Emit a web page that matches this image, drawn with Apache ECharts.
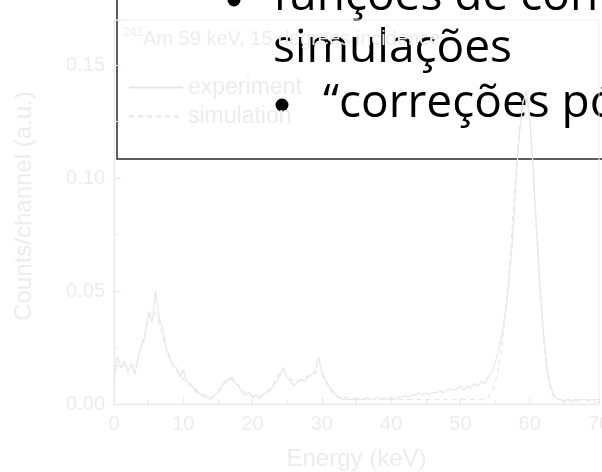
<!DOCTYPE html>
<html><head><meta charset="utf-8">
<script src="https://cdn.jsdelivr.net/npm/echarts@6/dist/echarts.min.js"></script>
<style>html,body{margin:0;padding:0;background:#fff}#c{width:602px;height:472px}</style>
</head><body><div id="c"></div>
<script>
// Energy grid: 0 .. 70 keV, one sample every 0.5 keV
const energyStep = 0.5;
const seriesNames = ['experiment', 'simulation'];
const titleText = 'Am 59 keV, 15 degrees incidence';
const titleSup = '241';
const xTickLabels = ['0', '10', '20', '30', '40', '50', '60', '70'];
const yTickLabels = ['0.00', '0.05', '0.10', '0.15'];
const slideLines = ['funções de conversão nas', 'simulações', '\u201Ccorreções pós-simulação\u201D'];

const experiment = [
  0.011,0.021,0.016,0.019,0.014,0.018,0.013,0.021,0.026,0.030,
  0.041,0.036,0.050,0.038,0.034,0.025,0.021,0.017,0.016,0.012,
  0.015,0.010,0.009,0.007,0.006,0.004,0.004,0.003,0.002,0.004,
  0.005,0.008,0.010,0.011,0.012,0.009,0.008,0.005,0.004,0.005,
  0.003,0.004,0.002,0.004,0.005,0.006,0.008,0.010,0.013,0.016,
  0.012,0.010,0.008,0.010,0.011,0.010,0.012,0.013,0.014,0.021,
  0.014,0.011,0.008,0.006,0.004,0.003,0.002,0.003,0.002,0.002,
  0.003,0.002,0.002,0.003,0.002,0.002,0.003,0.002,0.003,0.002,
  0.003,0.002,0.003,0.003,0.004,0.003,0.004,0.004,0.005,0.004,
  0.005,0.004,0.005,0.005,0.006,0.005,0.006,0.007,0.006,0.007,
  0.008,0.006,0.008,0.007,0.009,0.008,0.010,0.009,0.012,0.014,
  0.018,0.024,0.031,0.041,0.054,0.072,0.098,0.119,0.133,0.139,
  0.127,0.105,0.077,0.052,0.031,0.016,0.008,0.004,0.002,0.002,
  0.001,0.002,0.001,0.002,0.001,0.002,0.002,0.001,0.002,0.001,
  0.001
];

const simulation = [
  0.017,0.017,0.017,0.017,0.016,0.016,0.017,0.020,0.026,0.032,
  0.038,0.041,0.040,0.036,0.030,0.025,0.020,0.017,0.015,0.013,
  0.011,0.0095,0.008,0.0065,0.005,0.004,0.0035,
  0.003,0.003,0.0035,0.005,0.007,0.009,0.0105,0.011,0.010,0.008,
  0.006,0.005,0.004,0.0035,0.0035,0.0035,0.004,0.005,0.007,0.009,
  0.012,0.014,0.0145,0.013,0.011,0.010,0.010,0.0105,0.0115,0.0125,
  0.0135,0.014,0.014,0.013,0.010,0.007,0.005,0.0035,0.0025,
  0.002,0.002,0.002,0.002,0.002,0.002,0.002,0.002,0.002,0.002,
  0.002,0.002,0.002,0.002,0.002,0.002,0.002,0.002,0.002,0.002,
  0.002,0.002,0.002,0.002,0.002,0.002,0.002,0.002,0.002,0.002,
  0.002,0.002,0.002,0.002,0.002,0.002,0.002,0.002,0.002,0.002,
  0.002,
  0.0025,0.003,0.005,0.009,0.016,0.026,0.040,0.058,0.080,0.103,
  0.122,0.134,0.136,0.125,0.102,0.074,0.048,0.028,0.014,0.006,
  0.003,
  0.002,0.002,0.002,0.002,0.002,0.002,0.002,0.002,0.002,0.002,
  0.002,0.002,0.002
];

function toPairs(vals) { return vals.map((v, i) => [i * energyStep, v]); }

const faint = '#ececec';
const lineCol = '#e7e7e7';
const axisCol = '#e9e9e9';
const slideFont = '46px "Open Sans"';
const chart = echarts.init(document.getElementById('c'), null, {renderer: 'canvas'});
chart.setOption({
  backgroundColor: '#fff',
  animation: false,
  textStyle: {fontFamily: 'Liberation Sans'},
  title: {
    text: '{s|' + titleSup + '}' + titleText,
    left: 118, top: 22,
    textStyle: {color: faint, fontSize: 20, fontWeight: 'normal', fontFamily: 'Liberation Sans',
      rich: {s: {fontSize: 12, color: faint, verticalAlign: 'top', padding: [0, 0, 12, 0], fontFamily: 'Liberation Sans'}}}
  },
  legend: {
    data: seriesNames, orient: 'vertical', left: 123, top: 71, padding: 5,
    itemWidth: 54, itemHeight: 14, itemGap: 6,
    itemStyle: {opacity: 0},
    textStyle: {color: faint, fontSize: 23, fontFamily: 'Liberation Sans'}
  },
  grid: {left: 114, right: 3, top: 20, bottom: 68, outerBoundsMode: 'none', containLabel: false,
    show: true, borderColor: '#efefef', borderWidth: 1, backgroundColor: 'transparent'},
  xAxis: {
    type: 'value', min: 0, max: 70, interval: 10,
    name: 'Energy (keV)', nameLocation: 'middle', nameGap: 43,
    nameTextStyle: {color: faint, fontSize: 24, fontFamily: 'Liberation Sans'},
    axisLine: {lineStyle: {color: axisCol}},
    axisTick: {inside: true, length: 7, lineStyle: {color: axisCol}},
    minorTick: {show: true, splitNumber: 2, length: 4, lineStyle: {color: axisCol}},
    splitLine: {show: false},
    axisLabel: {color: faint, fontSize: 20, margin: 10, formatter: (v) => xTickLabels[Math.round(v / 10)] ?? ''}
  },
  yAxis: {
    type: 'value', min: 0, max: 0.17, interval: 0.05,
    name: 'Counts/channel (a.u.)', nameLocation: 'middle', nameGap: 78,
    nameTextStyle: {color: faint, fontSize: 24, fontFamily: 'Liberation Sans', padding: [0, 0, 0, 12]},
    axisLine: {show: true, lineStyle: {color: axisCol}},
    axisTick: {show: true, inside: true, length: 7, lineStyle: {color: axisCol}},
    minorTick: {show: true, splitNumber: 2, length: 4, lineStyle: {color: axisCol}},
    splitLine: {show: false},
    axisLabel: {color: faint, fontSize: 20, margin: 9, showMaxLabel: false,
      formatter: (v) => yTickLabels[Math.round(v / 0.05)] ?? ''}
  },
  graphic: {elements: [
    {type: 'rect', z: -1, shape: {x: 117, y: -20, width: 540, height: 179},
      style: {fill: '#fff', stroke: '#2a2a2a', lineWidth: 1.5}},
    {type: 'circle', z: -1, shape: {cx: 234, cy: 0, r: 6.5}, style: {fill: '#000'}},
    {type: 'text', z: -1, style: {x: 273, y: -3, text: slideLines[0], font: slideFont, fill: '#000', textVerticalAlign: 'middle'}},
    {type: 'text', z: -1, style: {x: 273, y: 49, text: slideLines[1], font: slideFont, fill: '#000', textVerticalAlign: 'middle'}},
    {type: 'circle', z: -1, shape: {cx: 282, cy: 105, r: 6.5}, style: {fill: '#000'}},
    {type: 'text', z: -1, style: {x: 323, y: 104, text: slideLines[2], font: slideFont, fill: '#000', textVerticalAlign: 'middle'}}
  ]},
  series: [
    {name: seriesNames[0], type: 'line', data: toPairs(experiment), showSymbol: false, symbol: 'none',
      lineStyle: {color: lineCol, width: 1.2}, itemStyle: {color: lineCol}, z: 5},
    {name: seriesNames[1], type: 'line', data: toPairs(simulation), showSymbol: false, symbol: 'none',
      lineStyle: {color: lineCol, width: 1.2, type: [5, 4]}, itemStyle: {color: lineCol}, z: 5}
  ]
});
</script></body></html>
